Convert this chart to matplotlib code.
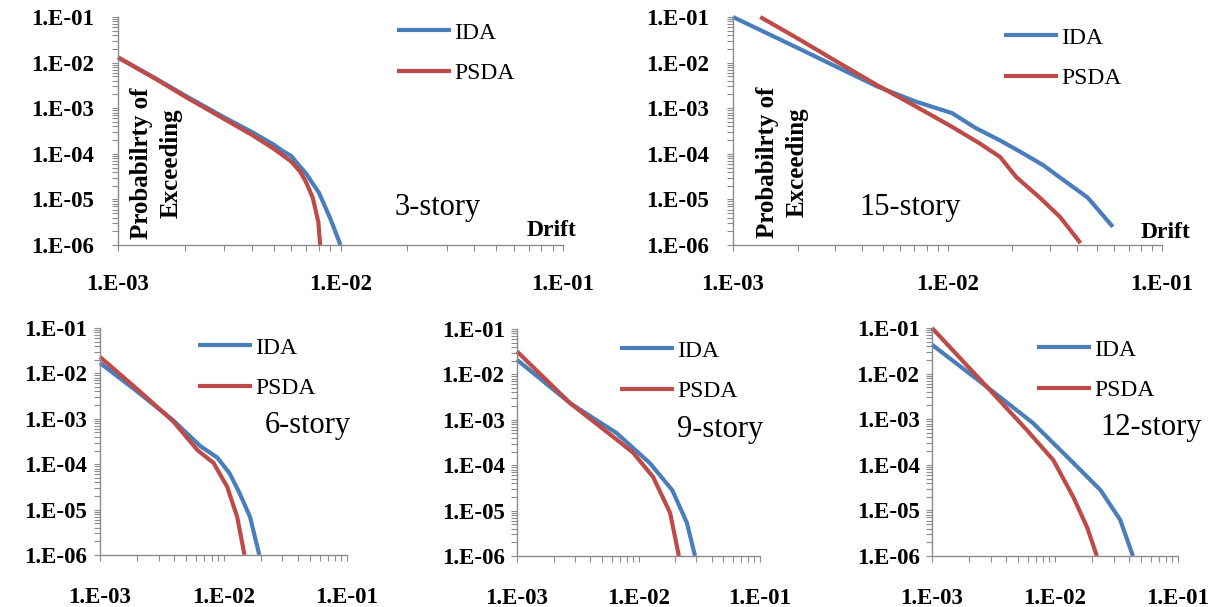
import matplotlib
matplotlib.use('Agg')
import matplotlib.pyplot as plt
from matplotlib.ticker import FixedLocator, FixedFormatter, LogLocator, NullFormatter

# ---------------- data ----------------
x_ticks = [1e-3, 1e-2, 1e-1]
x_tick_labels = ['1.E-03', '1.E-02', '1.E-01']
y_ticks = [1e-6, 1e-5, 1e-4, 1e-3, 1e-2, 1e-1]
y_tick_labels = ['1.E-06', '1.E-05', '1.E-04', '1.E-03', '1.E-02', '1.E-01']
series_names = ['IDA', 'PSDA']
story_labels = ['3-story', '15-story', '6-story', '9-story', '12-story']

# 3-story
ida3_x = [1.0e-3, 1.5e-3, 2.0e-3, 3.0e-3, 4.0e-3, 5.0e-3, 5.5e-3, 6.0e-3, 6.5e-3, 7.0e-3, 8.0e-3, 9.0e-3, 1.0e-2]
ida3_y = [1.3e-2, 4.3e-3, 1.9e-3, 6.3e-4, 3.0e-4, 1.6e-4, 1.15e-4, 9.0e-5, 5.6e-5, 3.7e-5, 1.4e-5, 3.8e-6, 1.0e-6]
psda3_x = [1.0e-3, 1.5e-3, 2.0e-3, 3.0e-3, 4.0e-3, 5.0e-3, 5.5e-3, 6.0e-3, 6.6e-3, 7.0e-3, 7.5e-3, 7.95e-3, 8.1e-3]
psda3_y = [1.3e-2, 4.2e-3, 1.8e-3, 5.8e-4, 2.6e-4, 1.3e-4, 9.3e-5, 6.8e-5, 4.0e-5, 2.4e-5, 1.1e-5, 3.2e-6, 1.0e-6]

# 15-story
ida15_x = [1.0e-3, 2.0e-3, 3.16e-3, 4.7e-3, 7.1e-3, 1.05e-2, 1.35e-2, 1.78e-2, 2.19e-2, 2.8e-2, 3.35e-2, 4.5e-2, 5.9e-2]
ida15_y = [1.0e-1, 2.1e-2, 7.4e-3, 3.0e-3, 1.4e-3, 7.8e-4, 3.7e-4, 1.9e-4, 1.1e-4, 5.6e-5, 3.0e-5, 1.1e-5, 2.5e-6]
psda15_x = [1.34e-3, 2.0e-3, 3.16e-3, 4.7e-3, 7.1e-3, 1.05e-2, 1.41e-2, 1.76e-2, 2.09e-2, 2.69e-2, 3.35e-2, 4.17e-2]
psda15_y = [1.0e-1, 3.4e-2, 9.5e-3, 3.2e-3, 1.1e-3, 3.9e-4, 1.7e-4, 8.5e-5, 3.1e-5, 1.1e-5, 4.1e-6, 1.1e-6]

# 6-story
ida6_x = [1.0e-3, 2.0e-3, 3.9e-3, 6.5e-3, 8.9e-3, 1.12e-2, 1.35e-2, 1.64e-2, 1.95e-2]
ida6_y = [1.7e-2, 4.0e-3, 9.3e-4, 2.5e-4, 1.4e-4, 6.3e-5, 2.3e-5, 6.9e-6, 1.0e-6]
psda6_x = [1.0e-3, 2.0e-3, 3.9e-3, 6.2e-3, 8.3e-3, 1.07e-2, 1.29e-2, 1.48e-2]
psda6_y = [2.3e-2, 4.5e-3, 8.9e-4, 2.0e-4, 1.07e-4, 3.2e-5, 6.9e-6, 1.0e-6]

# 9-story
ida9_x = [1.0e-3, 2.75e-3, 6.6e-3, 1.245e-2, 1.9e-2, 2.5e-2, 2.92e-2]
ida9_y = [2.1e-2, 2.3e-3, 5.1e-4, 1.1e-4, 2.8e-5, 5.4e-6, 1.0e-6]
psda9_x = [1.0e-3, 2.75e-3, 6.2e-3, 9.0e-3, 1.32e-2, 1.82e-2, 2.15e-2]
psda9_y = [3.2e-2, 2.3e-3, 4.2e-4, 1.9e-4, 5.5e-5, 8.9e-6, 1.0e-6]

# 12-story
ida12_x = [1.0e-3, 2.8e-3, 6.6e-3, 1.41e-2, 2.34e-2, 3.39e-2, 4.3e-2]
ida12_y = [4.3e-2, 5.1e-3, 8.3e-4, 1.1e-4, 2.8e-5, 6.2e-6, 1.0e-6]
psda12_x = [1.0e-3, 2.8e-3, 5.9e-3, 9.7e-3, 1.41e-2, 1.82e-2, 2.19e-2]
psda12_y = [1.0e-1, 5.1e-3, 5.8e-4, 1.26e-4, 1.95e-5, 4.3e-6, 1.0e-6]

# ---------------- figure ----------------
W, H = 1220, 607
fig = plt.figure(figsize=(W / 100, H / 100), dpi=100)
SERIF = 'Liberation Serif'
C_IDA = '#4A7EBB'
C_PSDA = '#BE4B48'
AX_COL = '#8C8C8C'


def fx(px):
    return px / W


def fy(py):
    return 1 - py / H


panels = [
    dict(l=118, r=563, t=17, b=245, ida=(ida3_x, ida3_y), psda=(psda3_x, psda3_y),
         label=story_labels[0], lab_xy=(438, 208), leg_xy=(397, 22), top=True,
         prob_xy=(156, 163), drift_xy=(552, 231), ypad=13, xpad=17),
    dict(l=733, r=1162, t=17, b=245, ida=(ida15_x, ida15_y), psda=(psda15_x, psda15_y),
         label=story_labels[1], lab_xy=(910, 208), leg_xy=(1004, 27), top=True,
         prob_xy=(782, 162), drift_xy=(1166, 233), ypad=13, xpad=17),
    dict(l=100, r=347, t=328, b=555, ida=(ida6_x, ida6_y), psda=(psda6_x, psda6_y),
         label=story_labels[2], lab_xy=(308, 425), leg_xy=(198, 337), top=False, ypad=5, xpad=19),
    dict(l=517, r=760, t=329, b=556, ida=(ida9_x, ida9_y), psda=(psda9_x, psda9_y),
         label=story_labels[3], lab_xy=(720, 430), leg_xy=(620, 340), top=False, ypad=5, xpad=19),
    dict(l=932, r=1178, t=328, b=556, ida=(ida12_x, ida12_y), psda=(psda12_x, psda12_y),
         label=story_labels[4], lab_xy=(1151, 428), leg_xy=(1037, 339), top=False, ypad=5, xpad=19),
]

for p in panels:
    ax = fig.add_axes([fx(p['l']), fy(p['b']), (p['r'] - p['l']) / W, (p['b'] - p['t']) / H])
    ax.set_xscale('log')
    ax.set_yscale('log')
    ax.set_xlim(1e-3, 1e-1)
    ax.set_ylim(1e-6, 1e-1)
    l1, = ax.plot(p['ida'][0], p['ida'][1], color=C_IDA, lw=3.0, clip_on=False,
                  solid_capstyle='butt', solid_joinstyle='round', label=series_names[0])
    l2, = ax.plot(p['psda'][0], p['psda'][1], color=C_PSDA, lw=3.0, clip_on=False,
                  solid_capstyle='butt', solid_joinstyle='round', label=series_names[1])

    for s in ('top', 'right'):
        ax.spines[s].set_visible(False)
    for s in ('left', 'bottom'):
        ax.spines[s].set_color(AX_COL)
        ax.spines[s].set_linewidth(1.0)

    ax.xaxis.set_major_locator(FixedLocator(x_ticks))
    ax.xaxis.set_major_formatter(FixedFormatter(x_tick_labels))
    ax.yaxis.set_major_locator(FixedLocator(y_ticks))
    ax.yaxis.set_major_formatter(FixedFormatter(y_tick_labels))
    ax.xaxis.set_minor_locator(LogLocator(base=10, subs=[2, 3, 4, 5, 6, 7, 8, 9]))
    ax.yaxis.set_minor_locator(LogLocator(base=10, subs=[2, 3, 4, 5, 6, 7, 8, 9], numticks=20))
    ax.xaxis.set_minor_formatter(NullFormatter())
    ax.yaxis.set_minor_formatter(NullFormatter())
    ax.tick_params(axis='both', which='both', direction='out', color=AX_COL, width=0.8)
    ax.tick_params(axis='both', which='major', length=4)
    ax.tick_params(axis='both', which='minor', length=4)
    ax.tick_params(axis='y', which='major', pad=p['ypad'])
    ax.tick_params(axis='x', which='major', pad=p['xpad'])
    for t in ax.get_xticklabels() + ax.get_yticklabels():
        t.set_fontfamily(SERIF)
        t.set_fontweight('bold')
        t.set_fontsize(16.5)
        t.set_color('black')

    ax.legend(handles=[l1, l2], loc='upper left',
              bbox_to_anchor=(fx(p['leg_xy'][0]), fy(p['leg_xy'][1])),
              bbox_transform=fig.transFigure, frameon=False, borderpad=0,
              borderaxespad=0, handlelength=2.3, handletextpad=0.12,
              labelspacing=0.8, prop=dict(family=SERIF, size=17))

    fig.text(fx(p['lab_xy'][0]), fy(p['lab_xy'][1]), p['label'], family=SERIF,
             fontsize=22, ha='center', va='center')

    if p['top']:
        fig.text(fx(p['prob_xy'][0]), fy(p['prob_xy'][1]), 'Probabilrty of\nExceeding',
                 family=SERIF, fontsize=18, fontweight='bold', rotation=90,
                 ha='center', va='center', multialignment='center', linespacing=1.35)
        fig.text(fx(p['drift_xy'][0]), fy(p['drift_xy'][1]), 'Drift', family=SERIF,
                 fontsize=17, fontweight='bold', ha='center', va='center')

fig.savefig('out.png', dpi=100, facecolor='white')
